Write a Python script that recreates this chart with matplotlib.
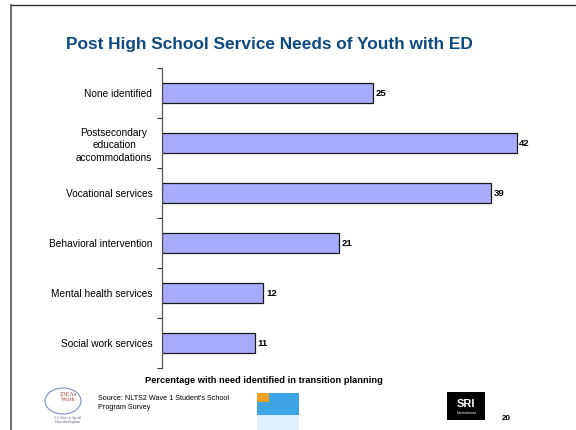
import matplotlib.pyplot as plt
from matplotlib.patches import Rectangle, Ellipse

plt.rcParams['font.family'] = ['Liberation Sans', 'DejaVu Sans']

categories = ["None identified",
              "Postsecondary\neducation\naccommodations",
              "Vocational services",
              "Behavioral intervention",
              "Mental health services",
              "Social work services"]
values = [25, 42, 39, 21, 12, 11]

fig = plt.figure(figsize=(5.76, 4.30), dpi=100)
ax = fig.add_axes([162/576, 1-368/430, 380/576, 300/430])

ypos = list(range(len(categories)))
ax.barh(ypos, values, height=0.41, color='#A9ABFF', edgecolor='#1a1a1a', linewidth=0.9)
for y, v in zip(ypos, values):
    ax.text(v + 0.3, y, str(v), va='center', ha='left', fontsize=6.8, fontweight='bold')

ax.set_xlim(0, 45)
ax.set_ylim(len(categories) - 0.5, -0.5)
ax.set_yticks(ypos)
ax.set_yticklabels(categories, fontsize=7.3, ha='right', multialignment='center',
                   linespacing=1.35)
ax.tick_params(axis='y', length=0, pad=7)
# minor ticks sit between the bars
ax.set_yticks([i - 0.5 for i in range(len(categories) + 1)], minor=True)
ax.tick_params(axis='y', which='minor', length=3.5, width=0.8, color='#333333')
ax.set_xticks([])
for s in ['top', 'right', 'bottom']:
    ax.spines[s].set_visible(False)
ax.spines['left'].set_color('#555555')
ax.spines['left'].set_linewidth(0.9)

ax.set_xlabel("Percentage with need identified in transition planning",
              fontsize=6.7, fontweight='bold')
ax.xaxis.set_label_coords((264 - 162) / 380, -(376 - 368) / 300)

# slide frame
fig.add_artist(plt.Line2D([11/576, 11/576], [0, 1-5/430], color='#555555', lw=1.2,
                          transform=fig.transFigure))
fig.add_artist(plt.Line2D([11/576, 1], [1-5/430, 1-5/430], color='#333333', lw=1.0,
                          transform=fig.transFigure))

fig.text(269/576, 1-45/430, "Post High School Service Needs of Youth with ED",
         ha='center', va='center', fontsize=12.4, fontweight='bold', color='#0D4A7F')

fig.text(98/576, 1-403/430, "Source: NLTS2 Wave 1 Student's School\nProgram Survey",
         ha='left', va='center', fontsize=5.2, linespacing=1.45)
fig.text(506/576, 1-418/430, "20", ha='center', va='center', fontsize=5.8, fontweight='bold')

# logo stand-ins
fig.add_artist(Ellipse((63/576, 1-401/430), 36/576, 26/430, transform=fig.transFigure,
                       fill=False, edgecolor='#7f8fc0', lw=0.8))
fig.text(68/576, 1-397/430, "IDEAs\nWork", ha='center', va='center', fontsize=4.5,
         family='Liberation Serif', color='#b84040', linespacing=0.9)
fig.text(67/576, 1-420/430, "U.S. Office of Special\nEducation Programs", ha='center',
         va='center', fontsize=2.2, family='Liberation Serif', color='#555577')
fig.add_artist(Rectangle((257/576, 0), 42/576, 37/430, transform=fig.transFigure,
                         facecolor='#3da4e6', edgecolor='none'))
fig.add_artist(Rectangle((257/576, 1-402/430), 12/576, 9/430, transform=fig.transFigure,
                         facecolor='#f0a020', edgecolor='none'))
fig.add_artist(Rectangle((257/576, 0), 42/576, 15/430, transform=fig.transFigure,
                         facecolor='#dff0fa', edgecolor='none'))
fig.add_artist(Rectangle((447/576, 1-420/430), 38/576, 28/430, transform=fig.transFigure,
                         facecolor='black', edgecolor='none'))
fig.text(466/576, 1-404/430, "SRI", ha='center', va='center', fontsize=8,
         fontweight='bold', color='white')
fig.text(466/576, 1-413/430, "International", ha='center', va='center', fontsize=2.5,
         color='white')

fig.savefig('out.png', dpi=100)
